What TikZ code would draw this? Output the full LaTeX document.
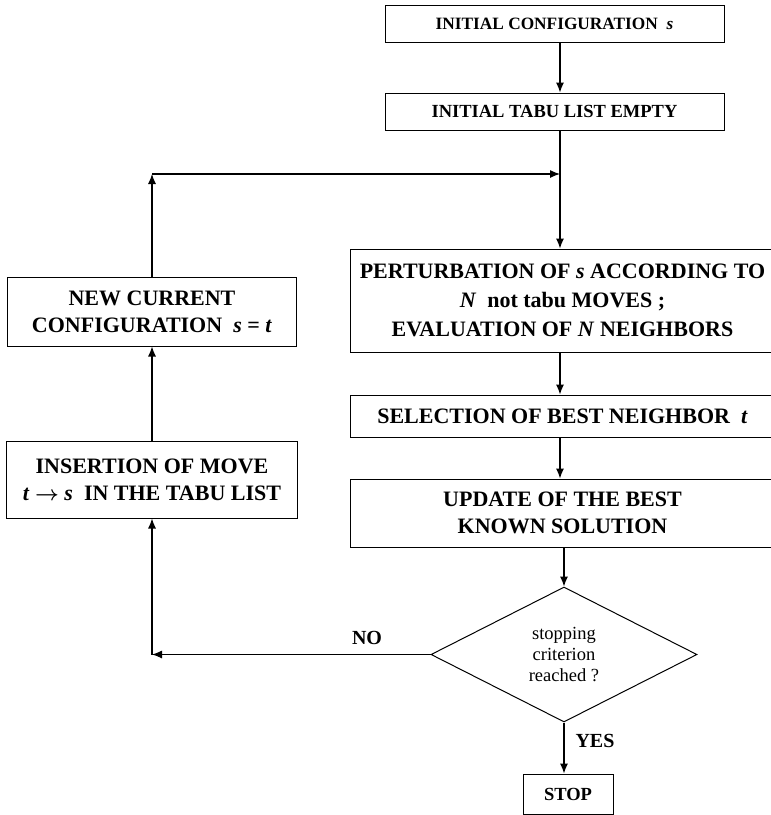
\documentclass[tikz,border=0pt]{standalone}
\usepackage{amsmath}
\usepackage{amssymb}
\usepackage{fontspec}
\setmainfont{Liberation Serif}
\usepackage{tikz}
\usetikzlibrary{shapes.geometric, arrows.meta}
\tikzset{>={Latex[length=10pt,width=8pt]}}
\tikzset{
  stepbox/.style={draw, line width=1pt, align=center, inner sep=0pt, font=\bfseries\fontsize{22}{27}\selectfont},
  headbox/.style={stepbox, minimum width=339pt, minimum height=37pt},
  testbox/.style={draw, diamond, aspect=2, line width=1pt, inner sep=0pt, align=center,
    minimum width=266pt, minimum height=135pt, font=\fontsize{18.5}{21}\selectfont},
  flow/.style={line width=1.1pt},
  answer/.style={font=\bfseries\fontsize{20}{24}\selectfont}
}

\begin{document}
\begin{tikzpicture}[x=1pt, y=-1pt]
\useasboundingbox (0,0) rectangle (771,815);

% main column
  \node[headbox, font=\bfseries\fontsize{17.3}{20}\selectfont] (init) at (554.5,23.5) {INITIAL CONFIGURATION\ \ \textit{s}};
  \node[headbox, font=\bfseries\fontsize{18.5}{22}\selectfont] (tabu) at (554.5,111.5) {INITIAL TABU LIST EMPTY};
  \coordinate (junc) at (560,174);

  \node[stepbox, minimum width=425pt, minimum height=103pt, font=\bfseries\fontsize{22}{29}\selectfont] (perturb) at (562.5,300.5)
    {PERTURBATION OF \textit{s} ACCORDING TO\\ \textit{N}\ \ not tabu MOVES ;\\ EVALUATION OF \textit{N} NEIGHBORS};
  \node[stepbox, minimum width=425pt, minimum height=42pt] (select) at (562.5,416)
    {SELECTION OF BEST NEIGHBOR\ \ \textit{t}};
  \node[stepbox, minimum width=425pt, minimum height=68pt] (update) at (562.5,513)
    {UPDATE OF THE BEST\\ KNOWN SOLUTION};
  \node[testbox] (dec) at (564,654.5) {stopping\\ criterion\\ reached ?};
  \node[stepbox, minimum width=90pt, minimum height=40pt, font=\bfseries\fontsize{18.5}{22}\selectfont] (stop) at (568,794) {STOP};

% left column
  \node[stepbox, minimum width=289pt, minimum height=69pt] (newcur) at (152,311.5)
    {NEW CURRENT\\ CONFIGURATION\ \ \textit{s} = \textit{t}};
  \node[stepbox, minimum width=291pt, minimum height=77pt] (insert) at (152,479.5)
    {INSERTION OF MOVE\\ \textit{t} $\boldsymbol{\rightarrow}$ \textit{s}\ \ IN THE TABU LIST};

  \draw[flow, ->] (init.south -| junc) -- (tabu.north -| junc);
  \draw[flow] (tabu.south -| junc) -- (junc);
  \draw[flow, ->] (junc) -- (perturb.north -| junc);
  \draw[flow, ->] (perturb.south -| junc) -- (select.north -| junc);
  \draw[flow, ->] (select.south -| junc) -- (update.north -| junc);
  \draw[flow, ->] (update.south -| dec) -- (dec.north);
  \draw[flow, ->] (dec.south) -- (dec.south |- stop.north);
  \node[answer] (yes) at (595,741) {YES};

  \coordinate (back) at (dec.west -| newcur.south);
  \draw[flow, ->] (dec.west) -- (back);
  \node[answer] (no) at (367,638) {NO};
  \draw[flow, ->] (back) -- (insert.south);
  \draw[flow, ->] (insert.north) -- (newcur.south);
  \coordinate (corner) at (newcur.north |- junc);
  \draw[flow, ->] (newcur.north) -- (corner);
  \draw[flow, ->] (corner) -- (junc);

\end{tikzpicture}
\end{document}
